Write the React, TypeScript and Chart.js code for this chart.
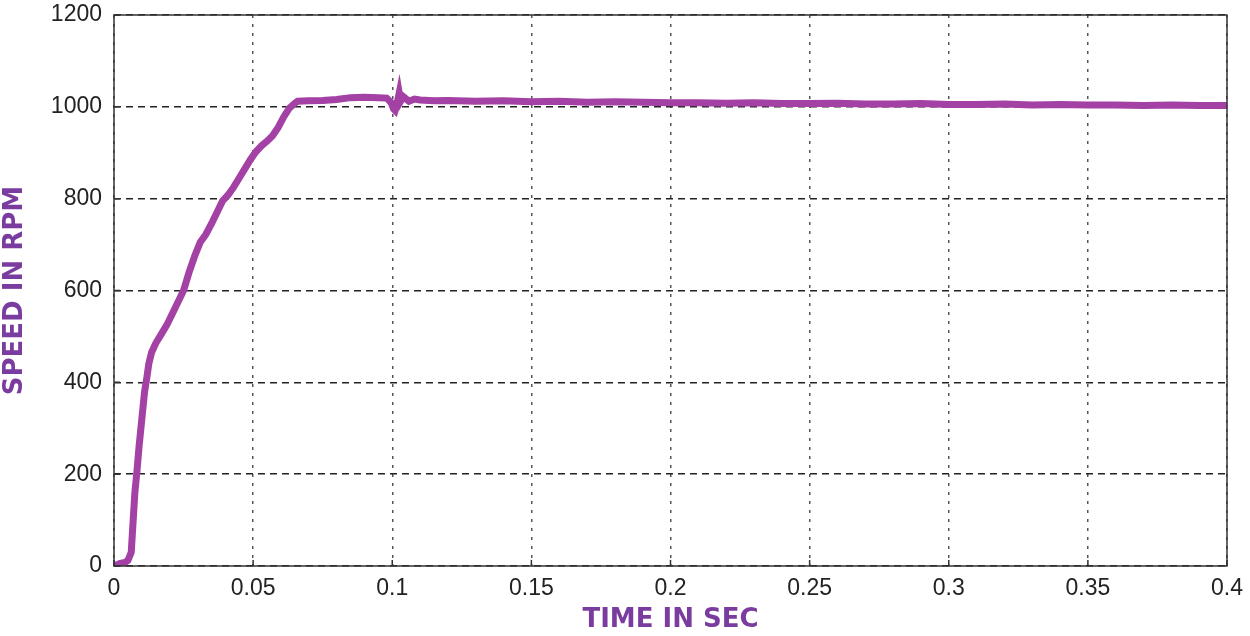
import React, { useEffect, useRef } from "react";
import { Chart, registerables } from "chart.js";

Chart.register(...registerables);

const timeSec = [
  0, 0.002, 0.004, 0.005, 0.0062, 0.0069, 0.0075, 0.0083, 0.009, 0.01, 0.011,
  0.0118, 0.0125, 0.0135, 0.015, 0.017, 0.019, 0.021, 0.023, 0.025, 0.027,
  0.029, 0.031, 0.033, 0.035, 0.037, 0.039, 0.041, 0.043, 0.045, 0.047, 0.049,
  0.051, 0.053, 0.055, 0.057, 0.059, 0.061, 0.063, 0.065, 0.066, 0.07, 0.075,
  0.08, 0.085, 0.09, 0.095, 0.098, 0.0995, 0.1005, 0.101, 0.102, 0.1025,
  0.103, 0.104, 0.106, 0.108, 0.11, 0.115, 0.12, 0.13, 0.14, 0.15, 0.16, 0.17,
  0.18, 0.19, 0.2, 0.21, 0.22, 0.23, 0.24, 0.25, 0.26, 0.27, 0.28, 0.29, 0.3,
  0.31, 0.32, 0.33, 0.34, 0.35, 0.36, 0.37, 0.38, 0.39, 0.4,
];
const speedRpm = [
  0, 5, 8, 12, 30, 100, 160, 210, 260, 320, 380, 410, 440, 465, 485, 505, 525,
  550, 575, 600, 640, 675, 705, 722, 745, 770, 795, 808, 825, 845, 865, 885,
  902, 915, 925, 937, 955, 978, 997, 1008, 1012, 1013, 1014, 1016, 1020, 1021,
  1020, 1019, 1010, 995, 992, 1015, 1030, 1012, 1022, 1012, 1017, 1015, 1013,
  1014, 1012, 1013, 1011, 1012, 1010, 1011, 1010, 1009, 1009, 1008, 1009,
  1007, 1007, 1008, 1006, 1006, 1007, 1005, 1005, 1006, 1004, 1005, 1004,
  1004, 1003, 1004, 1003, 1003,
];
const xTicks = [0, 0.05, 0.1, 0.15, 0.2, 0.25, 0.3, 0.35, 0.4];
const xTickLabels = ["0", "0.05", "0.1", "0.15", "0.2", "0.25", "0.3", "0.35", "0.4"];
const yTicks = [0, 200, 400, 600, 800, 1000, 1200];
const yTickLabels = ["0", "200", "400", "600", "800", "1000", "1200"];

const LINE_COLOR = "#A341A5";
const TITLE_COLOR = "#7B3CA0";

const framePlugin = {
  id: "frame",
  afterDraw(chart: any) {
    const { ctx, chartArea } = chart;
    const xs = chart.scales.x;
    const ys = chart.scales.y;
    ctx.save();
    ctx.strokeStyle = "#333";
    ctx.lineWidth = 1.5;
    ctx.setLineDash([]);
    ctx.strokeRect(
      chartArea.left,
      chartArea.top,
      chartArea.right - chartArea.left,
      chartArea.bottom - chartArea.top
    );
    ctx.beginPath();
    xTicks.forEach((v) => {
      const px = xs.getPixelForValue(v);
      ctx.moveTo(px, chartArea.bottom);
      ctx.lineTo(px, chartArea.bottom - 6);
    });
    yTicks.forEach((v) => {
      const py = ys.getPixelForValue(v);
      ctx.moveTo(chartArea.left, py);
      ctx.lineTo(chartArea.left + 6, py);
    });
    ctx.stroke();
    ctx.restore();
  },
};

export default function App() {
  const ref = useRef<HTMLCanvasElement | null>(null);
  useEffect(() => {
    if (!ref.current) return;
    const data = timeSec.map((t, i) => ({ x: t, y: speedRpm[i] }));
    const chart = new Chart(ref.current, {
      type: "line",
      data: {
        datasets: [
          {
            data,
            borderColor: LINE_COLOR,
            borderWidth: 7,
            pointRadius: 0,
            tension: 0,
            fill: false,
          },
        ],
      },
      options: {
        animation: false,
        responsive: false,
        devicePixelRatio: 1,
        layout: { padding: { top: 15, right: 23, left: 0, bottom: 0 } },
        plugins: { legend: { display: false }, tooltip: { enabled: false } },
        scales: {
          x: {
            type: "linear",
            min: 0,
            max: 0.4,
            afterBuildTicks: (s: any) => {
              s.ticks = xTicks.map((v) => ({ value: v }));
            },
            afterFit: (s: any) => {
              s.height = 70;
              s.paddingLeft = 0;
              s.paddingRight = 0;
            },
            ticks: {
              callback: (_v: any, i: number) => xTickLabels[i],
              color: "#222",
              font: { family: "Liberation Sans, Arial", size: 23 },
              padding: 9,
              maxRotation: 0,
            },
            grid: { color: "#555", lineWidth: 1.5, drawTicks: false },
            border: { display: false, dash: [3, 6] },
            title: {
              display: true,
              text: "TIME IN SEC",
              color: TITLE_COLOR,
              font: { family: "DejaVu Sans", size: 26, weight: "bold" },
              padding: { top: 0, bottom: 0 },
            },
          },
          y: {
            type: "linear",
            min: 0,
            max: 1200,
            afterBuildTicks: (s: any) => {
              s.ticks = yTicks.map((v) => ({ value: v }));
            },
            afterFit: (s: any) => {
              s.width = 114;
              s.paddingTop = 0;
              s.paddingBottom = 0;
            },
            ticks: {
              callback: (_v: any, i: number) => yTickLabels[i],
              color: "#222",
              font: { family: "Liberation Sans, Arial", size: 23 },
              padding: 12,
            },
            grid: { color: "#222", lineWidth: 1.5, drawTicks: false },
            border: { display: false, dash: [7, 5] },
            title: {
              display: true,
              text: "SPEED IN RPM",
              color: TITLE_COLOR,
              font: { family: "DejaVu Sans", size: 26, weight: "bold" },
              padding: { top: 0, bottom: 0 },
            },
          },
        },
      },
      plugins: [framePlugin],
    } as any);
    return () => chart.destroy();
  }, []);
  return (
    <div style={{ position: "absolute", left: 0, top: 0, width: 1250, height: 636, background: "#fff" }}>
      <canvas ref={ref} width={1250} height={636} />
    </div>
  );
}
